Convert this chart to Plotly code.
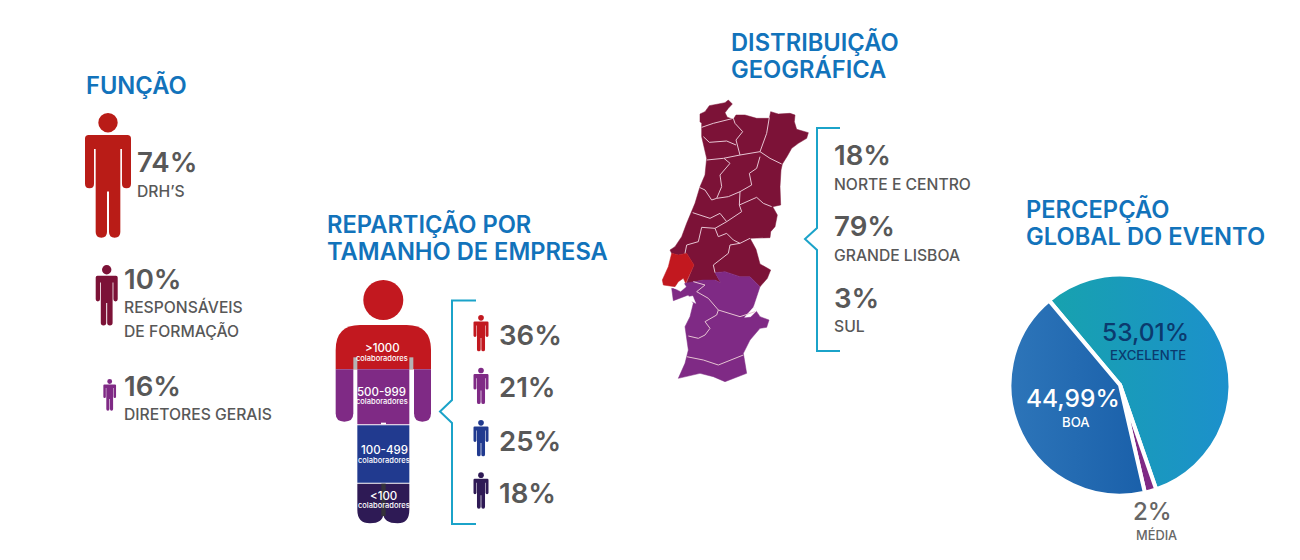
#!/usr/bin/env python3
"""Infographic: role, company size, geography and event rating (Plotly)."""

import plotly.graph_objects as go

# ---------------------------------------------------------------------------
# Data
# ---------------------------------------------------------------------------

ROLE_VALUES = ["74%", "10%", "16%"]
ROLE_LABELS = ["DRH’S", "RESPONSÁVEIS", "DE FORMAÇÃO", "DIRETORES GERAIS"]

SIZE_VALUES = ["36%", "21%", "25%", "18%"]
SIZE_LABELS = [">1000", "500-999", "100-499", "<100"]

REGION_VALUES = ["18%", "79%", "3%"]
REGION_LABELS = ["NORTE E CENTRO", "GRANDE LISBOA", "SUL"]

RATING_LABELS = ["EXCELENTE", "MÉDIA", "BOA"]
RATING_TEXT = ["53,01%", "2%", "44,99%"]
# slice sizes as drawn in the picture (they differ a bit from the printed figures)
RATING_DRAWN = [55.8, 1.7, 42.5]

NORTH_OUTLINE = [
    (150, 95), (150, 72), (165, 65), (178, 47), (205, 42), (225, 38), (235, 30), (247, 42),
    (235, 55), (225, 68), (232, 82), (250, 88), (258, 75), (285, 75), (320, 85), (358, 85),
    (362, 65), (385, 72), (420, 70), (435, 75), (433, 95), (440, 118), (475, 128), (470, 145),
    (445, 160), (425, 175), (412, 198), (397, 222), (393, 240), (390, 290), (392, 345),
    (368, 350), (382, 375), (375, 410), (362, 425), (360, 443), (300, 445), (318, 478),
    (330, 522), (362, 540), (352, 565), (330, 590), (300, 560), (270, 560), (225, 545),
    (195, 548), (212, 578), (195, 570), (160, 570), (130, 575), (107, 585), (132, 525),
    (110, 490), (85, 495), (65, 490), (60, 480), (75, 470), (95, 440), (110, 400),
    (125, 365), (135, 340), (150, 290), (165, 255), (170, 205), (155, 140), (155, 100),
]
LISBON_OUTLINE = [
    (65, 490), (85, 495), (110, 490), (132, 525), (107, 580), (100, 565), (85, 575),
    (75, 590), (40, 585), (37, 570), (55, 530),
]
SOUTH_OUTLINE = [
    (65, 595), (85, 598), (105, 580), (130, 575), (160, 570), (195, 570), (212, 578),
    (195, 548), (225, 545), (270, 560), (300, 560), (330, 590), (320, 620), (310, 650),
    (330, 680), (357, 690), (350, 712), (330, 715), (300, 750), (280, 790), (290, 850),
    (225, 875), (190, 860), (150, 850), (85, 865), (105, 820), (115, 780), (105, 710),
    (120, 680), (130, 640), (115, 615), (70, 632),
]
ESTUARY_OUTLINES = [
    [(72, 594), (88, 592), (100, 578), (108, 590), (92, 604)],
    [(112, 622), (128, 618), (137, 640), (122, 632)],
    [(284, 682), (300, 662), (312, 650), (320, 662), (302, 680)],
]
DISTRICT_LINES = [
    [(155, 112), (190, 100), (250, 85)],
    [(250, 85), (255, 100), (278, 125), (258, 150), (270, 195)],
    [(160, 140), (178, 157), (230, 153), (258, 165)],
    [(170, 210), (220, 205), (270, 195), (330, 185)],
    [(358, 82), (350, 130), (330, 185), (360, 205), (395, 222)],
    [(222, 205), (240, 220), (210, 255), (215, 290), (200, 325), (185, 330), (165, 300), (148, 292)],
    [(330, 200), (320, 235), (298, 250), (305, 285), (270, 305), (235, 320), (200, 325)],
    [(270, 305), (268, 345), (275, 365), (230, 395), (195, 415)],
    [(268, 345), (320, 322), (340, 340), (365, 350)],
    [(128, 368), (180, 385), (210, 370), (230, 395)],
    [(195, 415), (205, 440), (230, 430), (250, 450), (270, 460), (300, 445)],
    [(195, 415), (155, 412), (145, 455), (110, 465), (105, 490)],
    [(270, 460), (240, 465), (235, 490), (190, 525), (195, 548)],
    [(130, 575), (165, 585), (140, 605), (175, 625), (205, 660)],
    [(205, 660), (270, 680), (315, 665)],
    [(205, 660), (200, 675), (165, 695), (180, 715), (165, 735), (145, 745), (115, 738)],
    [(110, 800), (160, 810), (205, 825), (280, 795)],
]

# ---------------------------------------------------------------------------
# Colours and fonts
# ---------------------------------------------------------------------------

BLUE = "#1273bb"
GREY = "#585858"
BRACKET = "#1ba3c9"
RED = "#b91c17"
BRIGHT_RED = "#c2181f"
WINE = "#7c1237"
PURPLE = "#7f2a85"
NAVY = "#213a8f"
INK = "#2e1a55"
FONT = "Inter, Roboto, sans-serif"
TITLE_SIZE = 23.7
PCT_SIZE = 27.6
LABEL_SIZE = 15.7

shapes = []
annotations = []


def text(x, y, s, size, color=GREY, weight=500, anchor="left"):
    # annotations carry about 2px of padding on the anchored side
    annotations.append(dict(
        x=x - 2 if anchor == "left" else x, y=y, xref="x", yref="y", text=s, showarrow=False,
        xanchor=anchor, yanchor="middle", align=anchor,
        font=dict(family=FONT, size=size, color=color, weight=weight),
    ))


def poly(points, color):
    d = "M " + " L ".join(f"{x},{y}" for x, y in points) + " Z"
    shapes.append(dict(type="path", path=d, fillcolor=color, line_width=0, xref="x", yref="y"))


def person(cx, top, w, h, color):
    """Pictogram: head circle plus a body path scaled to w x h."""
    r = 0.077 * h
    shapes.append(dict(type="circle", xref="x", yref="y", fillcolor=color, line_width=0,
                       x0=cx - r, x1=cx + r, y0=top, y1=top + 2 * r))
    a, b, t, g = 0.5 * w, 0.304 * w, 0.268 * w, 0.022 * w
    sh, pit, arm, crotch, foot = (top + f * h for f in (0.175, 0.285, 0.597, 0.624, 0.99))
    c = 0.08 * w
    q = (a - b) / 2
    p = (t - g) / 2
    d = (
        f"M {cx-a+c},{sh} L {cx+a-c},{sh} Q {cx+a},{sh} {cx+a},{sh+c} "
        f"L {cx+a},{arm-q} Q {cx+a},{arm} {cx+a-q},{arm} Q {cx+b},{arm} {cx+b},{arm-q} "
        f"L {cx+b},{pit} L {cx+t},{pit} L {cx+t},{foot-p} "
        f"Q {cx+t},{foot} {cx+t-p},{foot} Q {cx+g},{foot} {cx+g},{foot-p} "
        f"L {cx+g},{crotch} L {cx-g},{crotch} L {cx-g},{foot-p} "
        f"Q {cx-g},{foot} {cx-t+p},{foot} Q {cx-t},{foot} {cx-t},{foot-p} "
        f"L {cx-t},{pit} L {cx-b},{pit} L {cx-b},{arm-q} "
        f"Q {cx-b},{arm} {cx-a+q},{arm} Q {cx-a},{arm} {cx-a},{arm-q} "
        f"L {cx-a},{sh+c} Q {cx-a},{sh} {cx-a+c},{sh} Z"
    )
    shapes.append(dict(type="path", path=d, fillcolor=color, line_width=0, xref="x", yref="y"))


def bracket(x, right, top, bottom, tip_x, notch_top, notch_bottom):
    tip_y = (notch_top + notch_bottom) / 2
    d = (f"M {right},{top} L {x},{top} L {x},{notch_top} L {tip_x},{tip_y} "
         f"L {x},{notch_bottom} L {x},{bottom} L {right},{bottom}")
    shapes.append(dict(type="path", path=d, line=dict(color=BRACKET, width=2),
                       fillcolor="rgba(0,0,0,0)", xref="x", yref="y"))


def crop(points, ox, oy):
    return [(ox + x / 3, oy + y / 3) for x, y in points]


# ---------------------------------------------------------------------------
# Left block: FUNÇÃO
# ---------------------------------------------------------------------------

text(86, 85.5, "FUNÇÃO", TITLE_SIZE, BLUE, 600)
person(108, 113, 46, 126, RED)
person(106.7, 265, 22, 61, WINE)
person(109.7, 379, 12.7, 32, PURPLE)

text(137, 162, ROLE_VALUES[0], PCT_SIZE, GREY, 600)
text(137, 191, ROLE_LABELS[0], LABEL_SIZE)
text(124, 279, ROLE_VALUES[1], PCT_SIZE, GREY, 600)
text(124, 307, ROLE_LABELS[1], LABEL_SIZE)
text(124, 331, ROLE_LABELS[2], LABEL_SIZE)
text(124, 386, ROLE_VALUES[2], PCT_SIZE, GREY, 600)
text(124, 414, ROLE_LABELS[3], LABEL_SIZE)

# ---------------------------------------------------------------------------
# Middle block: company size, a large person cut in four bands
# ---------------------------------------------------------------------------

text(327, 224, "REPARTIÇÃO POR", TITLE_SIZE, BLUE, 600)
text(327, 251, "TAMANHO DE EMPRESA", TITLE_SIZE, BLUE, 600)

ZX, ZY = 320, 270


def band(d_points, color):
    poly(crop(d_points, ZX, ZY), color)


def zp(x, y):
    return f"{ZX + x / 3},{ZY + y / 3}"


shapes.append(dict(type="circle", xref="x", yref="y", fillcolor=BRIGHT_RED, line_width=0,
                   x0=363.3, x1=403.3, y0=280, y1=320))
# red shoulders
shapes.append(dict(type="path", xref="x", yref="y", fillcolor=BRIGHT_RED, line_width=0, path=(
    f"M {zp(47, 298)} L {zp(47, 240)} Q {zp(47, 165)} {zp(120, 165)} L {zp(260, 165)} "
    f"Q {zp(333, 165)} {zp(333, 240)} L {zp(333, 298)} Z")))
# grey armpit slivers and white arm gaps
band([(100, 262), (112, 262), (112, 298), (100, 298)], "#b4b4b4")
band([(268, 262), (280, 262), (280, 298), (268, 298)], "#b4b4b4")
# purple arms and torso
shapes.append(dict(type="path", xref="x", yref="y", fillcolor=PURPLE, line_width=0, path=(
    f"M {zp(47, 298)} L {zp(100, 298)} L {zp(100, 430)} Q {zp(100, 455)} {zp(73, 455)} "
    f"Q {zp(47, 455)} {zp(47, 430)} Z")))
shapes.append(dict(type="path", xref="x", yref="y", fillcolor=PURPLE, line_width=0, path=(
    f"M {zp(282, 298)} L {zp(333, 298)} L {zp(333, 430)} Q {zp(333, 455)} {zp(307, 455)} "
    f"Q {zp(282, 455)} {zp(282, 430)} Z")))
band([(112, 298), (268, 298), (268, 463), (112, 463)], PURPLE)
band([(183, 458), (198, 458), (198, 463), (183, 463)], "#ffffff")
# blue thighs
band([(112, 466), (268, 466), (268, 638), (112, 638)], NAVY)
# dark legs
shapes.append(dict(type="path", xref="x", yref="y", fillcolor=INK, line_width=0, path=(
    f"M {zp(112, 641)} L {zp(268, 641)} L {zp(268, 720)} Q {zp(268, 760)} {zp(233, 760)} "
    f"Q {zp(190, 760)} {zp(190, 730)} Q {zp(190, 760)} {zp(150, 760)} "
    f"Q {zp(112, 760)} {zp(112, 720)} Z")))
band([(184, 641), (197, 641), (197, 738), (184, 738)], "#34323a")

band_text = [(382, 348, 358), (381.7, 391.5, 401), (384, 450, 460), (383.7, 495.5, 505)]
for label, (cx, y1, y2) in zip(SIZE_LABELS, band_text):
    text(cx, y1, label.replace("<", "&lt;").replace(">", "&gt;"), 11.5, "#ffffff", 500, "center")
    text(cx, y2, "colaboradores", 7.5, "#ffffff", 500, "center")

bracket(452, 476, 300.5, 524, 440, 400, 423)

size_tops = [315, 367.7, 420, 472.3]
size_colors = [BRIGHT_RED, PURPLE, NAVY, INK]
size_y = [335, 387, 441, 493]
for value, top, col, y in zip(SIZE_VALUES, size_tops, size_colors, size_y):
    person(481, top, 15, 36.7, col)
    text(499, y, value, PCT_SIZE, GREY, 600)

# ---------------------------------------------------------------------------
# Map block
# ---------------------------------------------------------------------------

text(731, 42.5, "DISTRIBUIÇÃO", TITLE_SIZE, BLUE, 600)
text(731, 69.5, "GEOGRÁFICA", TITLE_SIZE, BLUE, 600)

fig = go.Figure()
map_parts = [(NORTH_OUTLINE, WINE), (LISBON_OUTLINE, BRIGHT_RED), (SOUTH_OUTLINE, PURPLE)]
map_parts += [(o, "#ffffff") for o in ESTUARY_OUTLINES]
for outline, col in map_parts:
    pts = crop(outline, 650, 90)
    fig.add_trace(go.Scatter(
        x=[p[0] for p in pts] + [pts[0][0]], y=[p[1] for p in pts] + [pts[0][1]],
        mode="lines", fill="toself", fillcolor=col, line=dict(color=col, width=0.5),
        hoverinfo="skip", showlegend=False,
    ))
for line in DISTRICT_LINES:
    pts = crop(line, 650, 90)
    fig.add_trace(go.Scatter(
        x=[p[0] for p in pts], y=[p[1] for p in pts], mode="lines",
        line=dict(color="#e6c4d2", width=1), hoverinfo="skip", showlegend=False,
    ))

bracket(817, 840, 128, 351, 805, 228, 250)

region_y = [(155, 184), (226, 255), (298, 326)]
for value, label, (y1, y2) in zip(REGION_VALUES, REGION_LABELS, region_y):
    text(834, y1, value, PCT_SIZE, GREY, 600)
    text(834, y2, label, LABEL_SIZE)

# ---------------------------------------------------------------------------
# Pie block
# ---------------------------------------------------------------------------

text(1026, 209.5, "PERCEPÇÃO", TITLE_SIZE, BLUE, 600)
text(1026, 236.5, "GLOBAL DO EVENTO", TITLE_SIZE, BLUE, 600)

fig.add_trace(go.Pie(
    values=RATING_DRAWN, labels=RATING_LABELS, sort=False, direction="clockwise", rotation=320,
    domain=dict(x=[1009.5 / 1300, 1230.5 / 1300], y=[1 - 495.5 / 560, 1 - 274.5 / 560]),
    marker=dict(colors=["#1b94c4", PURPLE, "#1f69b1"], line=dict(color="#ffffff", width=4)),
    textinfo="none", hoverinfo="skip", showlegend=False,
))

text(1145, 332, RATING_TEXT[0], 24.5, "#0b3a6e", 500, "center")
text(1148, 355, RATING_LABELS[0], 13.2, "#0b3a6e", 500, "center")
text(1073, 398, RATING_TEXT[2], 24.5, "#ffffff", 500, "center")
text(1076, 422, RATING_LABELS[2], 13.2, "#ffffff", 500, "center")
text(1152.5, 511, RATING_TEXT[1], 24, "#666666", 500, "center")
text(1156, 535, RATING_LABELS[1], 12.8, "#666666", 500, "center")

fig.update_layout(
    width=1300, height=560,
    margin=dict(l=0, r=0, t=0, b=0),
    paper_bgcolor="#ffffff", plot_bgcolor="#ffffff",
    xaxis=dict(range=[0, 1300], visible=False, fixedrange=True),
    yaxis=dict(range=[560, 0], visible=False, fixedrange=True),
    shapes=shapes, annotations=annotations,
)

# pie slices have no gradient option, so swap their fills once drawn
POST = """
document.body.style.margin = '0';
var gd = document.querySelector('.plotly-graph-div');
function paintPie() {
  var svg = gd.querySelector('svg.main-svg');
  var ns = 'http://www.w3.org/2000/svg';
  var grads = [['#17a2ae', '#1c90cc'], null, ['#2d75b9', '#1a60aa']];
  var slices = gd.querySelectorAll('.pielayer path.surface');
  if (!svg.querySelector('#pie0')) {
    var defs = document.createElementNS(ns, 'defs');
    grads.forEach(function (g, i) {
      if (!g) return;
      var lg = document.createElementNS(ns, 'linearGradient');
      lg.setAttribute('id', 'pie' + i);
      g.forEach(function (c, j) {
        var st = document.createElementNS(ns, 'stop');
        st.setAttribute('offset', j);
        st.setAttribute('stop-color', c);
        lg.appendChild(st);
      });
      defs.appendChild(lg);
    });
    svg.insertBefore(defs, svg.firstChild);
  }
  slices.forEach(function (s, i) {
    if (grads[i]) s.style.setProperty('fill', 'url(#pie' + i + ')');
  });
}
gd.on('plotly_afterplot', paintPie);
paintPie();
"""

fig.write_html("out.html", config=dict(displayModeBar=False), post_script=POST)
